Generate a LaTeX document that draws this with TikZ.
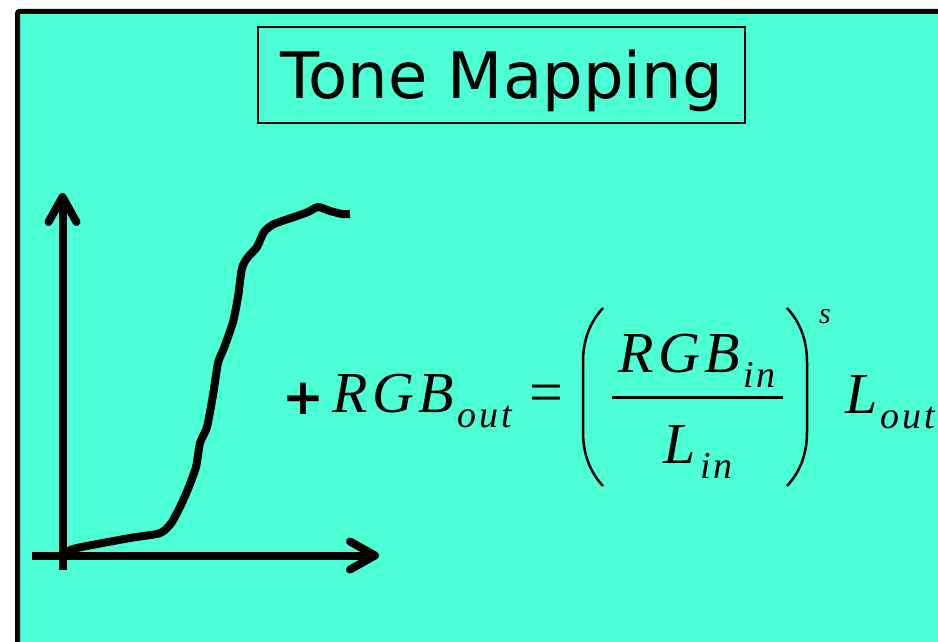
\documentclass[tikz,border=0pt]{standalone}
\usepackage{fontspec}
\usepackage{tikz}
\usetikzlibrary{arrows.meta,positioning}
\newfontfamily\titlefont{DejaVu Sans}
\newfontfamily\eqfont[LetterSpace=8]{Liberation Serif}
\definecolor{slidebg}{RGB}{77,255,212}

\begin{document}
\begin{tikzpicture}[
  x=1pt, y=-1pt,
  title/.style={draw, line width=1.5pt, inner sep=0pt, minimum width=487pt, minimum height=96pt,
    text height=47pt, text depth=0pt, font={\titlefont\fontsize{64}{70}\selectfont}},
  eq/.style={inner sep=0pt, anchor=base west, font={\eqfont\itshape\fontsize{58}{60}\selectfont}},
  sub/.style={inner sep=0pt, anchor=base west, font={\eqfont\itshape\fontsize{38}{40}\selectfont}},
  supr/.style={inner sep=0pt, anchor=base west, font={\eqfont\itshape\fontsize{30}{32}\selectfont}},
  plain/.style={inner sep=0pt, anchor=base west, font={\eqfont\fontsize{60}{62}\selectfont}},
  axis/.style={line width=8pt, -{Straight Barb[length=25pt,width=28pt,line cap=round,line join=round]}},
  curve/.style={line width=8pt, line join=round},
  paren/.style={line width=2.5pt},
  fracbar/.style={line width=3pt}
]
\useasboundingbox (0,0) rectangle (938,642);

% slide background and frame
\fill[slidebg] (17.5,11.5) rectangle (945,650);
\draw[line width=5pt, rounded corners=2pt] (17.5,650) |- (945,11.5);

% title
\node[title] (title) at (501.5,75) {Tone Mapping};

% axes
\coordinate (ystart) at (62.5,570);
\coordinate (ytip) at (62.5,193);
\coordinate (xstart) at (32,555.5);
\coordinate (xtip) at (379,555.5);
\draw[axis] (ystart) -- (ytip);
\draw[axis] (xstart) -- (xtip);

% tone curve
\draw[curve] plot[smooth, tension=0.4] coordinates {
  (64,553) (77,548) (130,538) (157,534) (165,530) (172,522) (180,507) (188,489)
  (196,467) (200,443) (207,427) (213,395) (218,363) (224,348) (233,322) (238,297)
  (242,268) (248,257) (257,247) (264,232) (274,224) (297,216) (308,212) (318,207)
  (330,211) (342,214) (350,214)};

% formula
\node[inner sep=0pt, anchor=base, font={\titlefont\bfseries\fontsize{50}{52}\selectfont}] (plus) at (303,414) {+};
\node[eq] (rgbout) at (332,412) {RGB};
\node[sub] (outA) at (457,427) {out};
\node[plain] (equal) at (529,412) {=};
\draw[paren] (603,308) .. controls (590,322) and (583,340) .. (583,362) -- (583,432)
  .. controls (583,454) and (590,472) .. (603,486);
\node[eq] (rgbin) at (618,372) {RGB};
\node[sub] (inA) at (743,387) {in};
\draw[fracbar] (612,397) -- (783,397);
\node[eq] (lin) at (663,463) {L};
\node[sub] (inB) at (700,478) {in};
\draw[paren] (787,308) .. controls (800,322) and (807,340) .. (807,362) -- (807,432)
  .. controls (807,454) and (800,472) .. (787,486);
\node[supr] (expo) at (819,323) {s};
\node[eq] (lout) at (845,413) {L};
\node[sub] (outB) at (880,428) {out};

\end{tikzpicture}
\end{document}
